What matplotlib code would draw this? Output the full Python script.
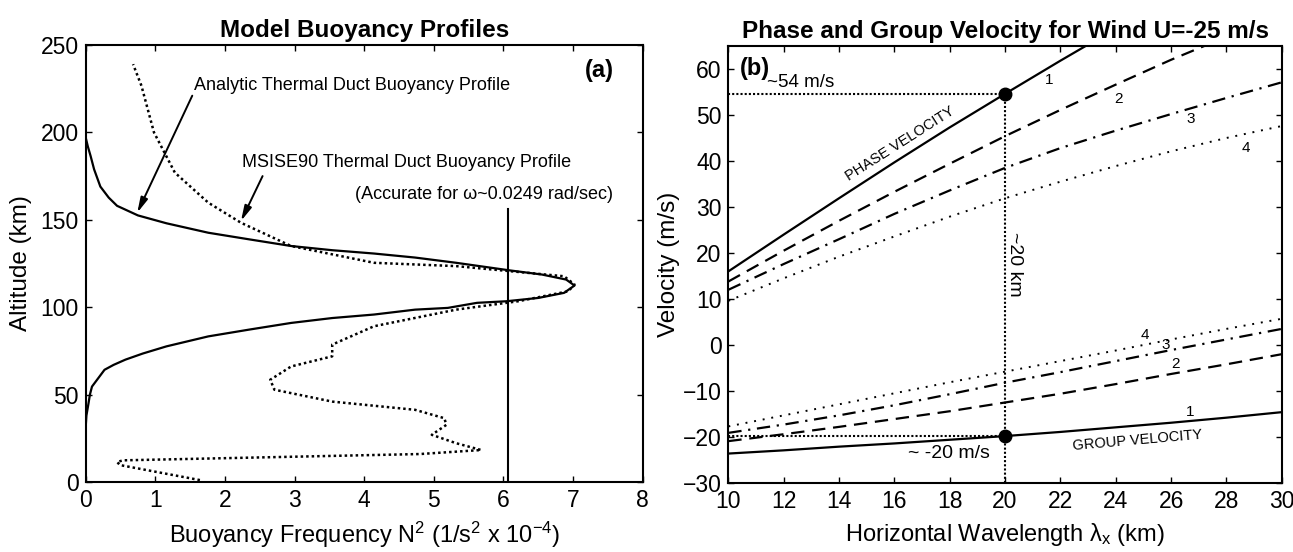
import matplotlib
matplotlib.use("Agg")
import matplotlib.pyplot as plt

plt.rcParams['font.family'] = ['Liberation Sans', 'DejaVu Sans']
plt.rcParams['mathtext.fontset'] = 'custom'
plt.rcParams['mathtext.rm'] = 'Liberation Sans'
plt.rcParams['mathtext.it'] = 'Liberation Sans'
plt.rcParams['mathtext.default'] = 'rm'

# --- panel (a): buoyancy profiles (N^2 in 1e-4 1/s^2, altitude in km) ---
analytic_alt = [31.7, 38, 45, 50, 54.6, 59.4, 64.2, 67, 70, 73.5, 77.6, 83.3, 87.2, 91, 93.8,
                95.8, 98.6, 99.6, 102.5, 103.4, 105.3, 108.2, 112.4, 115.8, 118.7, 121.0,
                125.4, 128.4, 130.7, 132.6, 135, 138.8, 142.6, 148, 152.5, 158, 162.7,
                169, 178.9, 186.5, 192, 197]
analytic_n2 = [0.0, 0.01, 0.04, 0.06, 0.09, 0.18, 0.27, 0.4, 0.57, 0.82, 1.16, 1.76, 2.35,
               2.95, 3.54, 4.14, 4.73, 5.2, 5.62, 6.04, 6.5, 6.87, 7.02, 6.9, 6.55, 6.1,
               5.32, 4.73, 4.14, 3.54, 2.95, 2.35, 1.76, 1.16, 0.75, 0.45, 0.33,
               0.21, 0.12, 0.07, 0.03, 0.0]

msis_alt = [1.1, 9.7, 11.5, 12.4, 16.0, 18.3, 22.2, 27, 32.7, 36.5, 41.3, 46, 52.8, 58.5,
            66.1, 71.9, 78.6, 89.1, 98.6, 103.4, 109.1, 113, 117.7, 123.5, 125.4, 135,
            148.3, 159.8, 177, 200, 226.7, 239]
msis_n2 = [1.64, 0.49, 0.45, 0.54, 4.8, 5.68, 5.32, 4.97, 5.18, 5.15, 4.73, 3.54, 2.71, 2.65,
           2.95, 3.54, 3.54, 4.14, 5.32, 6.21, 6.93, 7.02, 6.87, 5.32, 4.14, 2.95,
           2.23, 1.76, 1.28, 0.98, 0.80, 0.68]

accurate_n2 = 6.07
accurate_top = 156

# --- panel (b): phase / group velocity vs horizontal wavelength ---
wavelength = [10, 12, 14, 16, 18, 20, 22, 24, 26, 28, 30]
phase_1 = [16.0, 24.0, 31.9, 39.7, 47.3, 54.6, 61.8, 68.8, 75.6, 82.3, 89.0]
phase_2 = [13.8, 20.5, 27.0, 33.3, 39.4, 45.4, 51.1, 56.6, 62.0, 67.0, 72.0]
phase_3 = [12.0, 17.6, 23.0, 28.5, 33.6, 38.5, 42.8, 46.6, 50.2, 53.7, 57.1]
phase_4 = [9.6, 14.5, 19.2, 23.6, 27.9, 31.9, 35.5, 38.9, 42.1, 45.0, 47.6]
group_1 = [-23.6, -22.9, -22.1, -21.4, -20.6, -19.8, -18.9, -17.9, -16.9, -15.8, -14.6]
group_2 = [-20.9, -19.4, -17.8, -16.1, -14.4, -12.5, -10.6, -8.5, -6.3, -4.2, -2.0]
group_3 = [-19.1, -17.3, -15.3, -13.1, -10.7, -8.2, -5.9, -3.5, -1.1, 1.2, 3.5]
group_4 = [-17.7, -15.3, -12.9, -10.5, -8.1, -5.8, -3.5, -1.2, 1.2, 3.5, 5.7]

mark_wavelength = 20
mark_phase = 54.6
mark_group = -19.8

fig = plt.figure(figsize=(12.93, 5.52), dpi=100)
ax1 = fig.add_axes([0.0663, 0.1268, 0.4308, 0.7917])
ax2 = fig.add_axes([0.5633, 0.125, 0.428, 0.7917])

for ax in (ax1, ax2):
    ax.tick_params(direction='in', top=True, right=True, length=4.5, width=1,
                   labelsize=16.5, pad=5)
    for sp in ax.spines.values():
        sp.set_linewidth(1.5)

# (a)
ax1.plot(analytic_n2, analytic_alt, color='k', lw=1.6)
ax1.plot(msis_n2, msis_alt, color='k', lw=1.8, linestyle=(0, (1, 1.2)))
ax1.plot([accurate_n2, accurate_n2], [0, accurate_top], color='k', lw=1.5)
ax1.set_xlim(0, 8)
ax1.set_ylim(0, 250)
ax1.set_xticks(range(0, 9))
ax1.set_yticks(range(0, 251, 50))
ax1.set_title('Model Buoyancy Profiles', fontsize=17.5, fontweight='bold', pad=6)
ax1.set_xlabel('Buoyancy Frequency N$^2$ (1/s$^2$ x 10$^{-4}$)', fontsize=17, labelpad=6)
ax1.set_ylabel('Altitude (km)', fontsize=17.5, labelpad=6)

arrow = dict(arrowstyle='-|>,head_length=0.9,head_width=0.22', color='k', lw=1.4,
             shrinkA=0, shrinkB=0)
ax1.text(1.55, 227, 'Analytic Thermal Duct Buoyancy Profile', fontsize=13, va='center')
ax1.annotate('', xy=(0.74, 154), xytext=(1.53, 221), arrowprops=arrow)
ax1.text(2.25, 182.7, 'MSISE90 Thermal Duct Buoyancy Profile', fontsize=13, va='center')
ax1.annotate('', xy=(2.23, 149.3), xytext=(2.54, 175), arrowprops=arrow)
ax1.text(3.87, 164.6, '(Accurate for \u03c9~0.0249 rad/sec)', fontsize=13, va='center')
ax1.text(7.58, 235.3, '(a)', fontsize=17, fontweight='bold', ha='right', va='center')

# (b)
ax2.plot(wavelength, phase_1, color='k', lw=1.6)
ax2.plot(wavelength, phase_2, color='k', lw=1.6, linestyle=(0, (6, 3.5)))
ax2.plot(wavelength, phase_3, color='k', lw=1.6, linestyle=(0, (6, 3, 1, 3)))
ax2.plot(wavelength, phase_4, color='k', lw=1.4, linestyle=(0, (1, 3.5)))
ax2.plot(wavelength, group_1, color='k', lw=1.6)
ax2.plot(wavelength, group_2, color='k', lw=1.6, linestyle=(0, (6, 3.5)))
ax2.plot(wavelength, group_3, color='k', lw=1.6, linestyle=(0, (6, 3, 1, 3)))
ax2.plot(wavelength, group_4, color='k', lw=1.4, linestyle=(0, (1, 3.5)))

guide = dict(color='k', lw=1.5, linestyle=(0, (1, 1)))
ax2.plot([mark_wavelength, mark_wavelength], [-30, mark_phase], **guide)
ax2.plot([10, mark_wavelength], [mark_phase, mark_phase], **guide)
ax2.plot([10, mark_wavelength], [mark_group, mark_group], **guide)
ax2.plot([mark_wavelength, mark_wavelength], [mark_phase, mark_group], 'o', color='k',
         markersize=9)

ax2.set_xlim(10, 30)
ax2.set_ylim(-30, 65)
ax2.set_xticks(range(10, 31, 2))
ax2.set_yticks(range(-30, 61, 10))
ax2.set_title('Phase and Group Velocity for Wind U=-25 m/s', fontsize=17.5,
              fontweight='bold', pad=6)
ax2.set_xlabel('Horizontal Wavelength $\\lambda_x$ (km)', fontsize=17, labelpad=6)
ax2.set_ylabel('Velocity (m/s)', fontsize=17.5, labelpad=2)

ax2.text(10.4, 60, '(b)', fontsize=17, fontweight='bold', va='center')
ax2.text(11.4, 57.1, '~54 m/s', fontsize=13.5, va='center')
ax2.text(16.5, -23.5, '~ -20 m/s', fontsize=14, va='center')
ax2.text(20.35, 17.5, '~20 km', fontsize=14, rotation=270, ha='center', va='center')
ax2.text(16.2, 43.8, 'PHASE VELOCITY', fontsize=10.5, rotation=32.5,
         ha='center', va='center', rotation_mode='anchor')
ax2.text(24.8, -20.8, 'GROUP VELOCITY', fontsize=10.5, rotation=5,
         ha='center', va='center', rotation_mode='anchor')

for lx, ly, s in [(21.6, 57.6, '1'), (24.1, 53.5, '2'), (26.7, 49.1, '3'), (28.7, 42.9, '4'),
                  (25.05, 2.2, '4'), (25.8, -0.1, '3'), (26.15, -4.2, '2'), (26.7, -14.6, '1')]:
    ax2.text(lx, ly, s, fontsize=11, ha='center', va='center')

fig.savefig('out.png', dpi=100)
